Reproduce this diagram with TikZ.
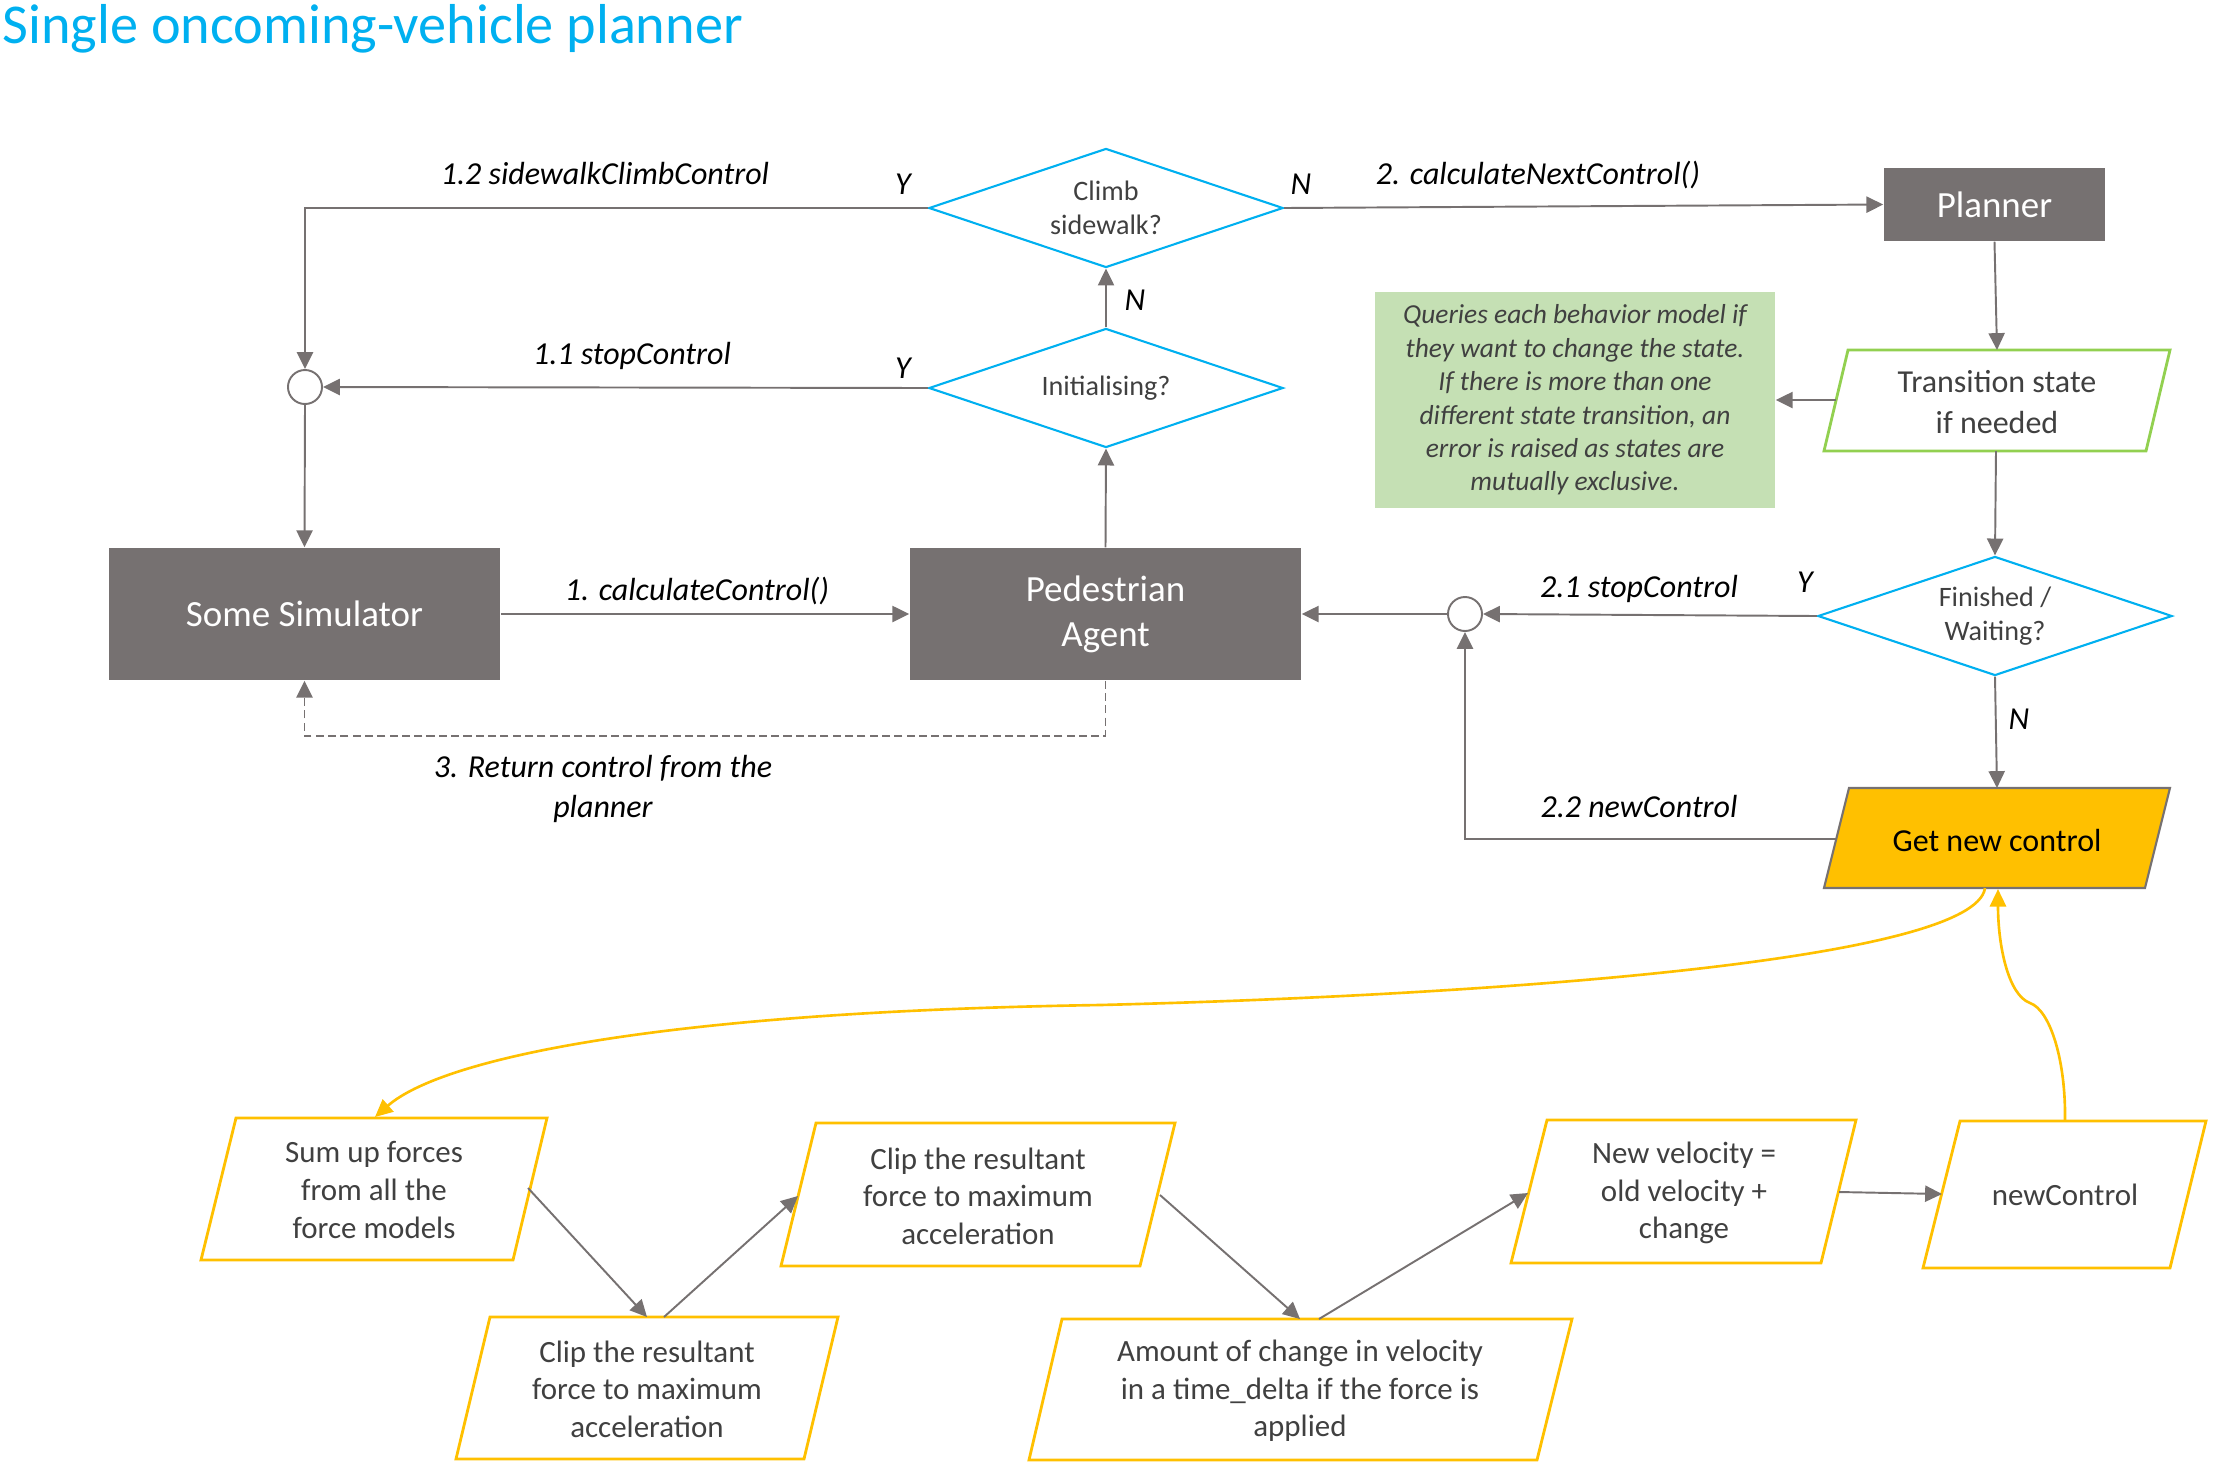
\documentclass[tikz,border=0pt]{standalone}
\usepackage{fontspec}
\setmainfont{Carlito}
\usetikzlibrary{arrows.meta,shapes.geometric,calc}
\definecolor{cgray}{HTML}{767171}
\definecolor{cblue}{HTML}{00B0F0}
\definecolor{cgreen}{HTML}{92D050}
\definecolor{cnote}{HTML}{C5E0B4}
\definecolor{cyel}{HTML}{FFC000}
\definecolor{ctext}{HTML}{404040}
\begin{document}
\begin{tikzpicture}[x=0.01cm,y=-0.01cm,
  line/.style={draw=cgray, line width=0.55pt},
  arr/.style={line, -{Triangle[length=4.8pt,width=4.6pt]}},
  yarr/.style={draw=cyel, line width=0.75pt, -{Triangle[length=5pt,width=4.6pt]}},
  gbox/.style={rectangle, fill=cgray, draw=none, text=white, align=center, inner sep=0,
    font=\fontsize{10.5}{12.8}\selectfont},
  dia/.style={diamond, draw=cblue, line width=0.6pt, aspect=2.97, inner sep=0, fill=white,
    minimum width=3.54cm, minimum height=1.19cm, text=ctext, align=center,
    font=\fontsize{8}{9.7}\selectfont},
  junc/.style={circle, draw=cgray, line width=0.55pt, fill=white, minimum size=0.34cm, inner sep=0},
  lbl/.style={font=\itshape\fontsize{9.1}{11.4}\selectfont, text=black, inner sep=0, anchor=base, align=center},
  ypara/.style={draw=cyel, line width=0.8pt, fill=white},
  btxt/.style={text=ctext, align=center, inner sep=0, font=\fontsize{8.8}{10.7}\selectfont},
]
\useasboundingbox (0,0) rectangle (2220,1469);

% title
\node[anchor=base west, text=cblue, inner sep=0, font=\fontsize{16}{19}\selectfont] (title) at (2,43) {Single oncoming-vehicle planner};

% main boxes
\node[gbox, minimum width=3.91cm, minimum height=1.32cm] (sim) at (304.5,614) {Some Simulator};
\node[gbox, minimum width=3.91cm, minimum height=1.32cm] (agent) at (1105.5,614) {Pedestrian\\Agent};
\node[gbox, minimum width=2.21cm, minimum height=0.73cm] (planner) at (1994.5,204.5) {Planner};

% diamonds
\node[dia] (climb) at (1106,208) {Climb\\sidewalk?};
\node[dia] (init) at (1106,388) {Initialising?};
\node[dia] (fin) at (1995,616) {Finished /\\Waiting?};

% junctions
\node[junc] (c1) at (305,387) {};
\node[junc] (c2) at (1465,614) {};

% note
\node[rectangle, fill=cnote, draw=none, minimum width=4.0cm, minimum height=2.15cm, inner sep=0,
  text=ctext, align=center, font=\itshape\fontsize{7.8}{9.5}\selectfont] (note) at (1575,400)
  {Queries each behavior model if\\they want to change the state.\\If there is more than one\\different state transition, an\\error is raised as states are\\mutually exclusive.};

% parallelograms (top)
\draw[draw=cgreen, line width=0.8pt, fill=white] (1848,350) -- (2170,350) -- (2146,451) -- (1824,451) -- cycle;
\node[align=center, inner sep=0, text=ctext, font=\fontsize{9.1}{11.4}\selectfont] (trans) at (1997,402) {Transition state\\if needed};
\draw[draw=cgray, line width=0.6pt, fill=cyel] (1849,788) -- (2170,788) -- (2145,888) -- (1824,888) -- cycle;
\node[align=center, inner sep=0, text=black, font=\fontsize{9.1}{11.4}\selectfont] (get) at (1997,840) {Get new control};

% parallelograms (bottom)
\draw[ypara] (236,1118) -- (547,1118) -- (513,1260) -- (201,1260) -- cycle;
\node[btxt] (sum) at (374,1190) {Sum up forces\\from all the\\force models};
\draw[ypara] (490,1317) -- (838,1317) -- (804,1459) -- (456,1459) -- cycle;
\node[btxt] (clipa) at (647,1389) {Clip the resultant\\force to maximum\\acceleration};
\draw[ypara] (816,1123) -- (1175,1123) -- (1140,1266) -- (781,1266) -- cycle;
\node[btxt] (clipb) at (978,1196) {Clip the resultant\\force to maximum\\acceleration};
\draw[ypara] (1062,1319) -- (1572,1319) -- (1537,1460) -- (1029,1460) -- cycle;
\node[btxt] (amt) at (1300,1391) {Amount of change in velocity\\in a time\_delta if the force is\\applied};
\draw[ypara] (1547,1120) -- (1856,1120) -- (1821,1263) -- (1511,1263) -- cycle;
\node[btxt] (nv) at (1684,1193) {New velocity =\\old velocity +\\change};
\draw[ypara] (1960,1121) -- (2206,1121) -- (2170,1268) -- (1923,1268) -- cycle;
\node[btxt] (nc) at (2065,1195) {newControl};

% connection points on parallelograms
\coordinate (trans-n) at (1997,350);
\coordinate (trans-s) at (1996,451);
\coordinate (trans-w) at (1836,400);
\coordinate (get-n) at (1997,788);
\coordinate (get-w) at (1837,839);
\coordinate (get-s) at (1985,888);
\coordinate (get-s2) at (1998,889);
\coordinate (sum-n) at (375,1117);
\coordinate (sum-e) at (528,1188);
\coordinate (clipa-n) at (647,1317);
\coordinate (clipa-n2) at (664,1317);
\coordinate (clipb-w) at (798,1196);
\coordinate (clipb-e) at (1160,1195);
\coordinate (amt-n) at (1300,1319);
\coordinate (amt-n2) at (1319,1319);
\coordinate (nv-w) at (1528,1193);
\coordinate (nv-e) at (1839,1192);
\coordinate (nc-w) at (1942,1194);
\coordinate (nc-n) at (2065,1121);

% connectors
\draw[arr] (sim.east) -- (agent.west);
\draw[arr] (agent.north) -- (init.south);
\draw[arr] (init.north) -- (climb.south);
\draw[arr] (init.west) -- (c1.east);
\draw[arr] (climb.west) -| (c1.north);
\draw[arr] (c1.south) -- (sim.north);
\draw[arr] (climb.east) -- (planner.west);
\draw[arr] (planner.south) -- (trans-n);
\draw[arr] (trans-w) -- (note.east);
\draw[arr] (trans-s) -- (fin.north);
\draw[arr] (fin.west) -- (c2.east);
\draw[arr] (c2.west) -- (agent.east);
\draw[arr] (fin.south) -- (get-n);
\draw[arr] (get-w) -| (c2.south);
\draw[arr, dash pattern=on 2.3pt off 1.2pt] (agent.south) -- (agent.south |- 0,736) -| (sim.south);

\draw[arr] (sum-e) -- (clipa-n);
\draw[arr] (clipa-n2) -- (clipb-w);
\draw[arr] (clipb-e) -- (amt-n);
\draw[arr] (amt-n2) -- (nv-w);
\draw[arr] (nv-e) -- (nc-w);

\draw[yarr] (get-s) .. controls (1975,960) and (1500,995) .. (1100,1005)
  .. controls (650,1012) and (440,1060) .. (sum-n);
\draw[yarr] (nc-n) .. controls (2066,1060) and (2050,1010) .. (2030,1003)
  .. controls (2008,995) and (1998,945) .. (get-s2);

% labels
\node[lbl] (l12) at (605,184) {1.2 sidewalkClimbControl};
\node[lbl] (y1) at (903,194) {Y};
\node[lbl] (n1) at (1301,194) {N};
\node[lbl] (l2) at (1538,184) {2. calculateNextControl()};
\node[lbl] (n2) at (1135,310) {N};
\node[lbl] (l11) at (632,364) {1.1 stopControl};
\node[lbl] (y2) at (903,378) {Y};
\node[lbl] (l1) at (697,600) {1. calculateControl()};
\node[lbl] (l3) at (603,777) {3. Return control from the};
\node[lbl] (l3b) at (603,817) {planner};
\node[lbl] (l21) at (1639,597) {2.1 stopControl};
\node[lbl] (y3) at (1805,592) {Y};
\node[lbl] (n3) at (2019,729) {N};
\node[lbl] (l22) at (1639,817) {2.2 newControl};
\end{tikzpicture}
\end{document}
